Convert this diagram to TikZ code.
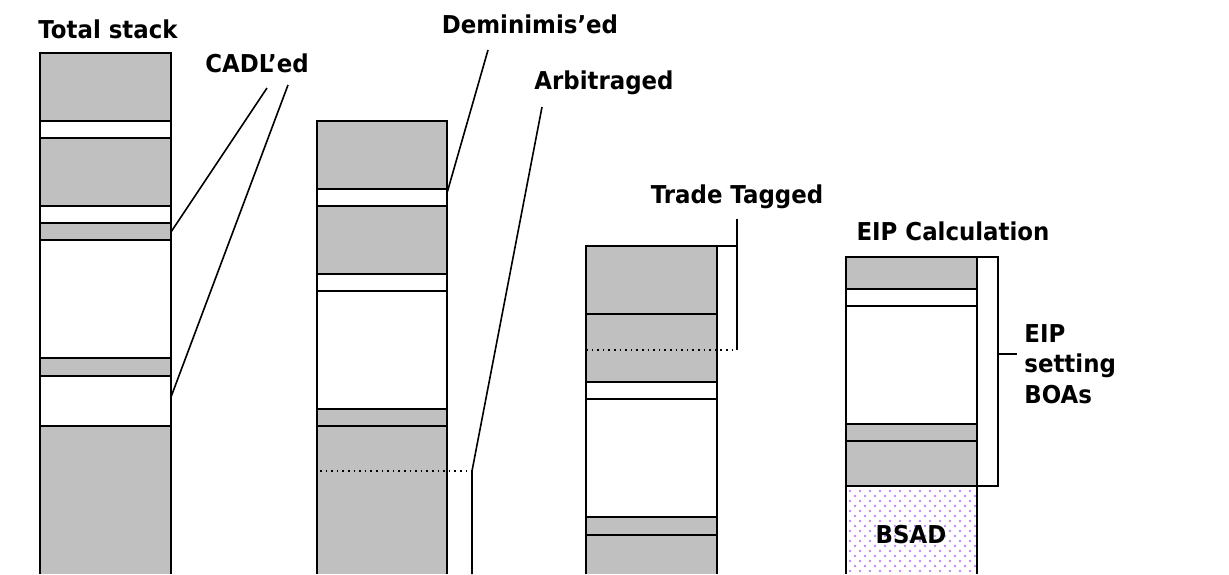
\documentclass[tikz,border=0pt]{standalone}
\usepackage{fontspec}
\setmainfont{DejaVu Sans}
\newfontfamily\lblfont{DejaVu Sans}[FakeStretch=0.93]
\definecolor{stackgray}{RGB}{192,192,192}
\definecolor{dotlilac}{RGB}{190,135,250}

\begin{document}
\begin{tikzpicture}[x=0.5pt,y=-0.5pt,
  lbl/.style={font=\lblfont\bfseries\fontsize{12.3}{15.2}\selectfont, inner sep=0pt, anchor=base},
  band/.style={fill=stackgray},
  edge/.style={line width=0.8pt},
  tagline/.style={line width=0.8pt, dotted}]
\useasboundingbox (0,0) rectangle (1229,574);

% Total stack
\fill[band] (40,53) rectangle (171,121);
\fill[band] (40,138) rectangle (171,206);
\fill[band] (40,223) rectangle (171,240);
\fill[band] (40,358) rectangle (171,376);
\fill[band] (40,426) rectangle (171,574);
\foreach \y in {121,138,206,223,240,358,376,426}
  \draw[edge] (40,\y) -- (171,\y);
\draw[edge] (40,574) -- (40,53) -- (171,53) -- (171,574);
\node[lbl] (total) at (108,38) {Total stack};

% CADL'ed
\node[lbl] (cadl) at (257,72) {CADL’ed};
\coordinate (cadlA) at (267,88);
\coordinate (cadlB) at (288,85);
\coordinate (cadlHi) at (171,232);
\coordinate (cadlLo) at (171,397);
\draw[edge] (cadlA) -- (cadlHi);
\draw[edge] (cadlB) -- (cadlLo);

% Deminimis'ed stack
\fill[band] (317,121) rectangle (447,189);
\fill[band] (317,206) rectangle (447,274);
\fill[band] (317,409) rectangle (447,574);
\foreach \y in {189,206,274,291,409,426}
  \draw[edge] (317,\y) -- (447,\y);
\draw[edge] (317,574) -- (317,121) -- (447,121) -- (447,574);
\node[lbl] (demin) at (530,33) {Deminimis’ed};
\coordinate (deminA) at (488,50);
\coordinate (deminB) at (447,193);
\draw[edge] (deminA) -- (deminB);

% Arbitraged
\node[lbl] (arb) at (604,89) {Arbitraged};
\coordinate (arbA) at (542,107);
\coordinate (arbB) at (472,471);
\coordinate (arbL) at (320,471);
\draw[tagline] (arbL) -- (arbB);
\draw[edge] (arbA) -- (arbB) -- (472,574);

% Trade Tagged stack
\fill[band] (586,246) rectangle (717,382);
\fill[band] (586,517) rectangle (717,574);
\foreach \y in {314,382,399,517,535}
  \draw[edge] (586,\y) -- (717,\y);
\draw[edge] (586,574) -- (586,246) -- (717,246) -- (717,574);
\node[lbl] (trade) at (737,203) {Trade Tagged};
\coordinate (tradeA) at (737,219);
\coordinate (tradeB) at (737,350);
\draw[edge] (717,246) -- (737,246);
\draw[edge] (tradeA) -- (tradeB);
\draw[tagline] (586,350) -- (tradeB);

% EIP Calculation stack
\fill[band] (846,257) rectangle (977,289);
\fill[band] (846,424) rectangle (977,486);
\foreach \x in {850,860,...,970}
  \foreach \y in {491,501,...,571}
    \fill[dotlilac] (\x,\y) circle (1.4);
\foreach \x in {855,865,...,975}
  \foreach \y in {496,506,...,571}
    \fill[dotlilac] (\x,\y) circle (1.4);
\foreach \y in {289,306,424,441,486}
  \draw[edge] (846,\y) -- (977,\y);
\draw[edge] (846,574) -- (846,257) -- (977,257) -- (977,574);
\node[lbl] (eipcalc) at (953,240) {EIP Calculation};
\node[lbl] (bsad) at (911,543) {BSAD};

% EIP setting BOAs bracket
\coordinate (eipTick) at (998,354);
\draw[edge] (977,257) -- (998,257) -- (998,486) -- (977,486);
\node[lbl, anchor=base west, align=left] (eipset) at (1024,403)
  {EIP\\setting\\BOAs};
\draw[edge] (eipTick) -- (1017,354);
\end{tikzpicture}
\end{document}
